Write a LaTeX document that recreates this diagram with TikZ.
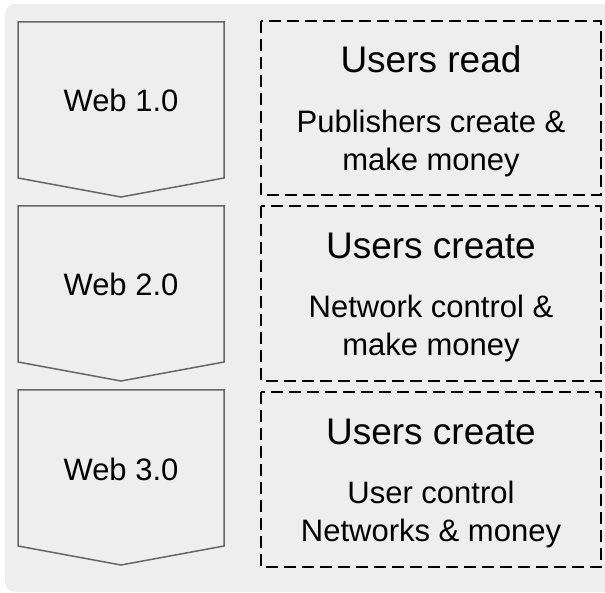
\documentclass[tikz,border=0pt]{standalone}
\usepackage{fontspec}
\setmainfont{Liberation Sans}
\definecolor{bggrey}{HTML}{EEEEEE}
\definecolor{chevgrey}{HTML}{666666}
\begin{document}
\begin{tikzpicture}[x=1pt,y=-1pt,
    chev/.style={draw=chevgrey, line width=1.5pt, fill=bggrey, line join=miter},
    dashbox/.style={draw=black, line width=1.5pt, dash pattern=on 12pt off 6pt},
    heading/.style={font=\fontsize{37}{44}\selectfont, anchor=base},
    bodytext/.style={font=\fontsize{31}{38}\selectfont, align=center},
    weblabel/.style={font=\fontsize{31}{37}\selectfont, anchor=base}]
    \useasboundingbox (0,0) rectangle (605,593);
    %%grey background
    \fill[bggrey, rounded corners=10pt] (5,4) rectangle (630,592);

    %%draw the chevrons
    \draw[chev] (18,22) -- (224,22) -- (224,178) -- (121,197) -- (18,178) -- cycle;
        \node[weblabel] (web1) at (121,112){Web 1.0};
    \draw[chev] (18,206) -- (224,206) -- (224,362) -- (121,381) -- (18,362) -- cycle;
        \node[weblabel] (web2) at (121,296){Web 2.0};
    \draw[chev] (18,390) -- (224,390) -- (224,546) -- (121,565) -- (18,546) -- cycle;
        \node[weblabel] (web3) at (121,480){Web 3.0};

    %%draw the dashed boxes
    \draw[dashbox] (261,21) rectangle (601,195);
        \node[heading] (head1) at (431,73){Users read};
        \node[bodytext] (body1) at (431,143){Publishers create \&\\make money};
    \draw[dashbox] (261,206) rectangle (601,381);
        \node[heading] (head2) at (431,259){Users create};
        \node[bodytext] (body2) at (431,328){Network control \&\\make money};
    \draw[dashbox] (261,392) rectangle (601,567);
        \node[heading] (head3) at (431,444){Users create};
        \node[bodytext] (body3) at (431,514){User control\\Networks \& money};
\end{tikzpicture}
\end{document}
